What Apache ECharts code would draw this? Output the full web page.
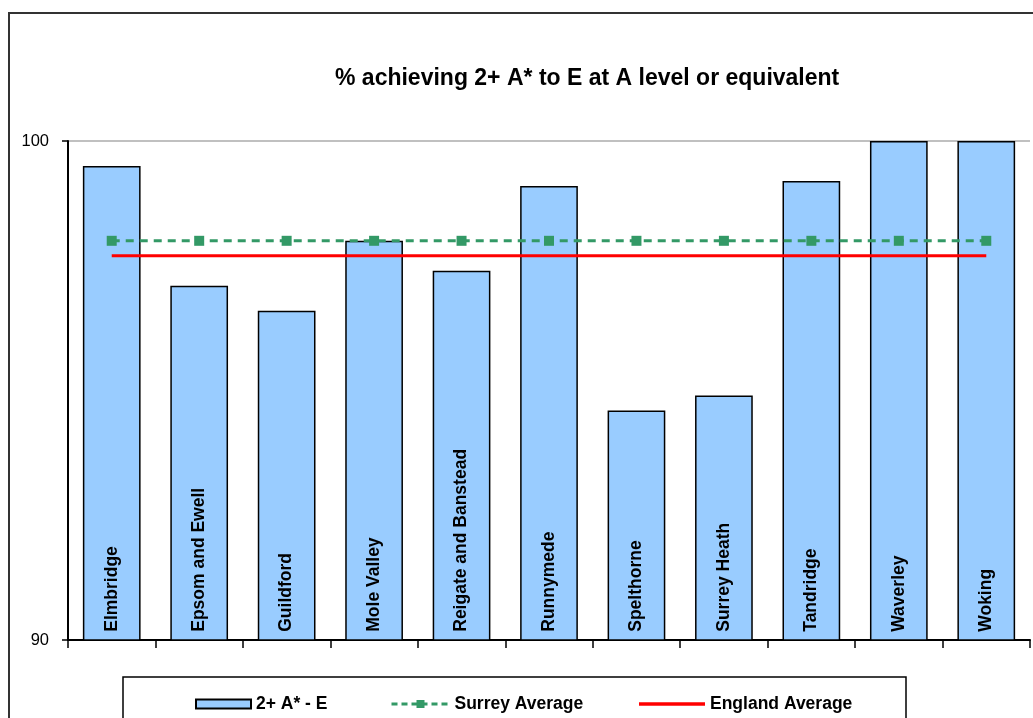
<!DOCTYPE html>
<html><head><meta charset="utf-8">
<script src="https://cdn.jsdelivr.net/npm/echarts@6/dist/echarts.min.js"></script>
<style>html,body{margin:0;padding:0;background:#fff}#c{width:1033px;height:718px}</style>
</head><body><div id="c"></div>
<script>
const categories = ['Elmbridge','Epsom and Ewell','Guildford','Mole Valley','Reigate and Banstead','Runnymede','Spelthorne','Surrey Heath','Tandridge','Waverley','Woking'];
const barValues = [99.5, 97.1, 96.6, 98.0, 97.4, 99.1, 94.6, 94.9, 99.2, 100, 100];
const surreyAvg = [98.0, 98.0, 98.0, 98.0, 98.0, 98.0, 98.0, 98.0, 98.0, 98.0, 98.0];
const englandAvg = [97.7, 97.7, 97.7, 97.7, 97.7, 97.7, 97.7, 97.7, 97.7, 97.7, 97.7];
const seriesNames = ['2+ A* - E', 'Surrey Average', 'England Average'];
const titleText = '% achieving 2+ A* to E at A level or equivalent';

const F = 'Liberation Sans, Arial, sans-serif';
const legendText = {fontFamily: F, fontSize: 17.5, fontWeight: 'bold', color: '#000'};
const chart = echarts.init(document.getElementById('c'));
chart.setOption({
  animation: false,
  backgroundColor: '#fff',
  textStyle: {fontFamily: F},
  title: {text: titleText, left: 330, top: 62,
    textStyle: {fontFamily: F, fontSize: 23, fontWeight: 'bold', color: '#000'}},
  graphic: [
    {type: 'rect', shape: {x: 9, y: 13, width: 1100, height: 800},
      style: {fill: 'none', stroke: '#333', lineWidth: 2}, z: -1},
    {type: 'rect', shape: {x: 123, y: 677, width: 783, height: 80},
      style: {fill: 'none', stroke: '#000', lineWidth: 1.5}, z: -1}
  ],
  grid: {left: 68, right: 3, top: 141, bottom: 78},
  legend: [
    {top: 690, left: 190, itemWidth: 55, itemHeight: 9, textStyle: legendText,
      data: [{name: seriesNames[0], icon: 'rect'}]},
    {top: 690, left: 385, itemWidth: 58, itemHeight: 10, textStyle: legendText,
      lineStyle: {width: 3, type: [6, 4]},
      data: [{name: seriesNames[1]}]},
    {top: 690, left: 634, itemWidth: 66, itemHeight: 10, textStyle: legendText,
      data: [{name: seriesNames[2], icon: 'path://M0,0H66V3.5H0Z'}]}
  ],
  xAxis: {
    type: 'category', data: categories,
    axisLine: {lineStyle: {color: '#000', width: 2}},
    axisTick: {show: true, interval: 0, length: 8, lineStyle: {color: '#000', width: 1.5}},
    axisLabel: {show: false}
  },
  yAxis: {
    type: 'value', min: 90, max: 100, interval: 10,
    axisLine: {show: true, lineStyle: {color: '#000', width: 2}},
    axisTick: {show: true, length: 6, lineStyle: {color: '#000', width: 1.5}},
    axisLabel: {margin: 19, fontSize: 16.5, color: '#000', fontFamily: F},
    splitLine: {lineStyle: {color: '#c0c0c0', width: 2}}
  },
  series: [
    {name: seriesNames[0], type: 'bar', data: barValues, barCategoryGap: '34%',
      itemStyle: {color: '#99ccff', borderColor: '#000', borderWidth: 1.5},
      label: {show: true, position: 'insideBottom', rotate: 90, align: 'left', verticalAlign: 'middle',
        distance: 9, formatter: '{b}', fontFamily: F, fontSize: 17.5, fontWeight: 'bold', color: '#000'}},
    {name: seriesNames[1], type: 'line', data: surreyAvg, symbol: 'rect', symbolSize: 10,
      itemStyle: {color: '#339966'},
      lineStyle: {color: '#339966', width: 3, type: [8, 6]}},
    {name: seriesNames[2], type: 'line', data: englandAvg, symbol: 'none',
      itemStyle: {color: '#ff0000'},
      lineStyle: {color: '#ff0000', width: 3}}
  ]
});
</script></body></html>
